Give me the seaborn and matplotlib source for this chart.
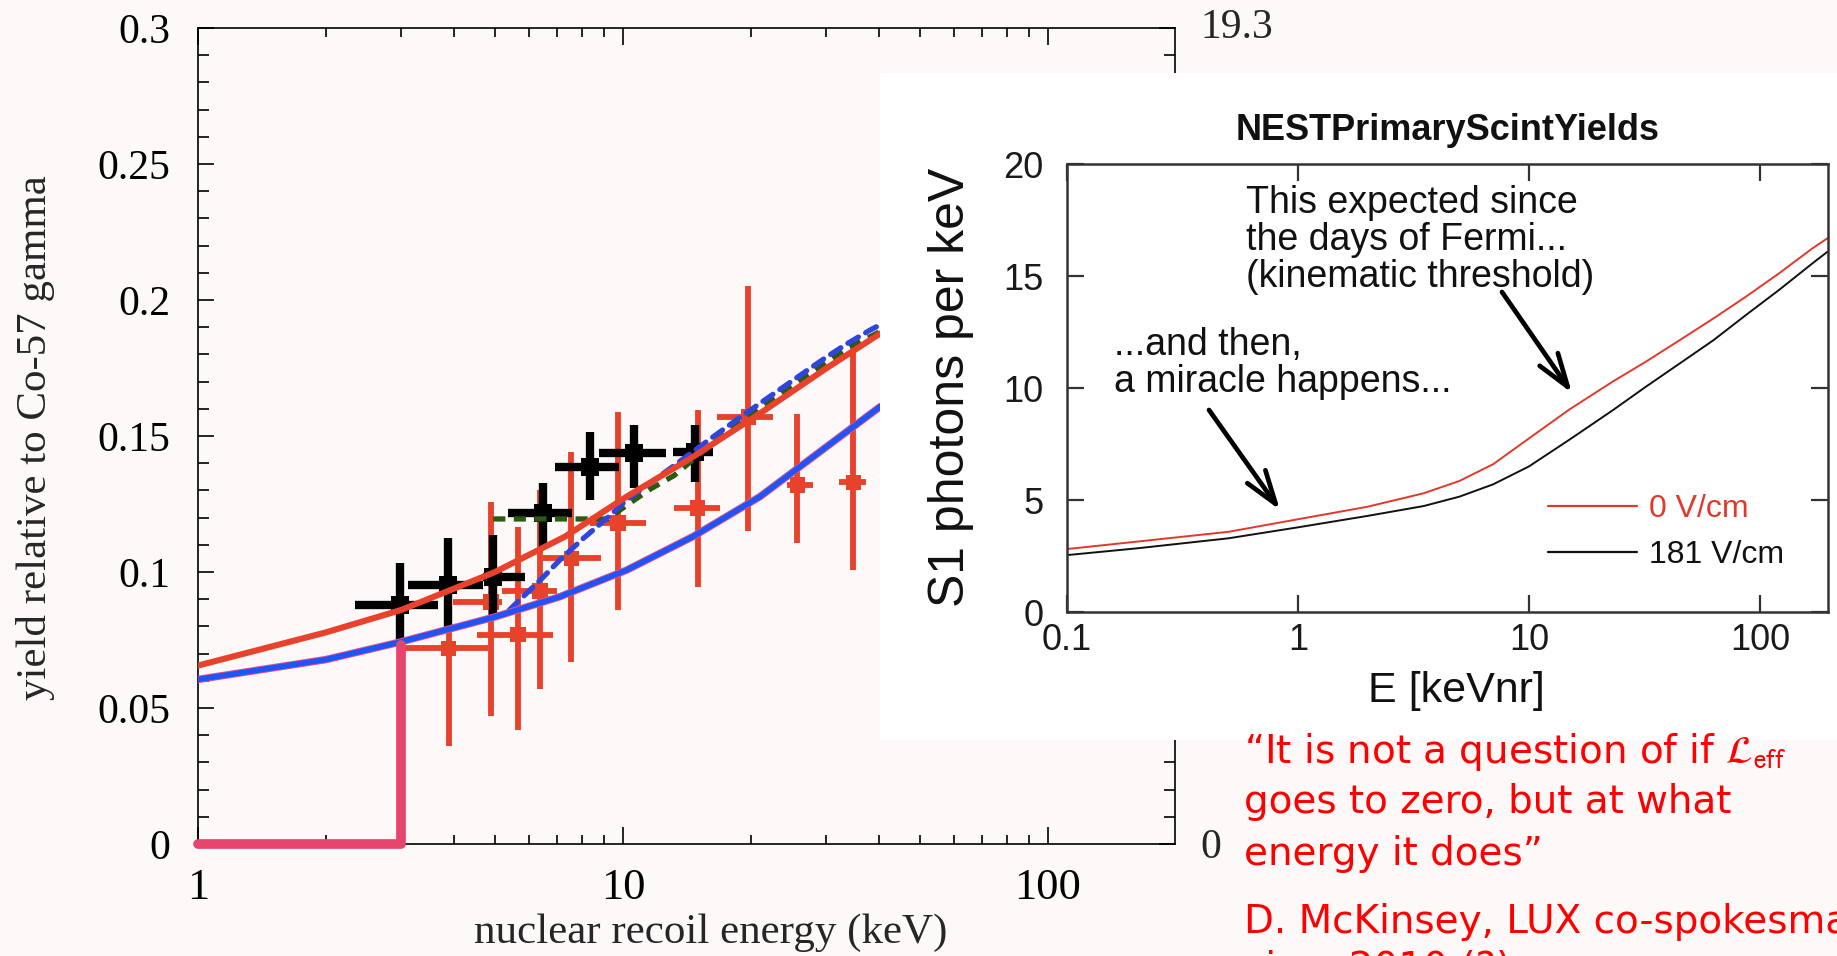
import matplotlib
matplotlib.use("Agg")
import matplotlib.pyplot as plt
import seaborn as sns
import pandas as pd
from matplotlib.ticker import MultipleLocator, LogLocator, NullFormatter, NullLocator
from matplotlib.patches import Rectangle

# ---------------- yield relative to Co-57 gamma ----------------
black_E = [2.99, 3.88, 4.95, 6.48, 8.36, 10.6, 14.8]
black_Y = [0.088, 0.0952, 0.0982, 0.1217, 0.1386, 0.1437, 0.1441]
black_Elo = [2.34, 3.12, 4.68, 5.36, 6.9, 8.8, 13.1]
black_Ehi = [3.67, 4.68, 5.88, 7.6, 9.8, 12.6, 16.3]
black_Ylo = [0.0743, 0.0794, 0.0842, 0.109, 0.1265, 0.131, 0.133]
black_Yhi = [0.1033, 0.1125, 0.1136, 0.1327, 0.1515, 0.154, 0.154]

red_E = [3.89, 4.89, 5.66, 6.38, 7.55, 9.73, 15.0, 19.7, 25.7, 34.8]
red_Y = [0.072, 0.089, 0.077, 0.093, 0.105, 0.118, 0.1235, 0.157, 0.132, 0.133]
red_Elo = [3.02, 3.98, 4.53, 5.2, 6.5, 8.36, 13.2, 16.6, 24.3, 32.3]
red_Ehi = [4.8, 5.2, 6.85, 7.0, 8.9, 11.3, 16.9, 22.5, 28.0, 37.3]
red_Ylo = [0.036, 0.047, 0.042, 0.057, 0.067, 0.086, 0.0945, 0.115, 0.1107, 0.1007]
red_Yhi = [0.1125, 0.1257, 0.1165, 0.130, 0.144, 0.159, 0.1596, 0.205, 0.158, 0.1805]

red_curve_E = [1, 2, 3, 5, 7.3, 10.2, 14.6, 21, 30.1, 40.3]
red_curve_Y = [0.0656, 0.0778, 0.086, 0.100, 0.113, 0.1277, 0.1423, 0.1583, 0.1749, 0.1877]

blue_curve_E = [1, 2, 3, 5, 7.1, 10.2, 14.6, 21, 30.1, 40.3]
blue_curve_Y = [0.0605, 0.0678, 0.0743, 0.0835, 0.0909, 0.1007, 0.113, 0.1277, 0.146, 0.1608]

blue_dash_E = [5.4, 6.48, 7.1, 8.07, 9.16, 10.2, 12.9, 16.3, 18.5, 21.0, 23.6, 26.5, 30.1, 33.5, 38.2, 41]
blue_dash_Y = [0.086, 0.098, 0.1044, 0.1124, 0.1197, 0.1265, 0.138, 0.1497, 0.1559, 0.162,
               0.1675, 0.173, 0.179, 0.1837, 0.189, 0.1915]

green_dash_E = [4.95, 6, 7, 8, 9.2, 10.2, 11.6, 13.2, 16.3, 21, 26.5, 33.5, 41]
green_dash_Y = [0.1195, 0.1195, 0.1195, 0.1195, 0.1195, 0.1245, 0.1305, 0.1355, 0.1475, 0.160,
                0.171, 0.182, 0.189]

threshold_E = [1, 3, 3]
threshold_Y = [0, 0, 0.073]

yield_ticks = [0, 0.05, 0.1, 0.15, 0.2, 0.25, 0.3]
yield_tick_labels = ["0", "0.05", "0.1", "0.15", "0.2", "0.25", "0.3"]
energy_ticks = [1, 10, 100]
energy_tick_labels = ["1", "10", "100"]

# ---------------- NEST primary scintillation yields ----------------
nest_E = [0.1, 0.2, 0.5, 1, 2, 3.5, 5, 7, 10, 15, 23, 32, 45, 63, 87, 121, 169, 197]
nest_0V = [2.81, 3.14, 3.58, 4.14, 4.7, 5.3, 5.85, 6.6, 7.75, 9.05, 10.28, 11.17, 12.14, 13.11,
           14.08, 15.12, 16.24, 16.7]
nest_181V = [2.54, 2.84, 3.29, 3.78, 4.29, 4.73, 5.15, 5.7, 6.5, 7.7, 9.0, 10.05, 11.1, 12.14,
             13.26, 14.38, 15.57, 16.1]
nest_labels = ["0 V/cm", "181 V/cm"]
nest_xticks = [0.1, 1, 10, 100]
nest_xtick_labels = ["0.1", "1", "10", "100"]
nest_yticks = [0, 5, 10, 15, 20]

BG = "#fdf9f8"
RED = "#e8412c"
BLUE = "#1f55f7"
SERIF = "Liberation Serif"
SANS = "Liberation Sans"

sns.set_style("ticks")
plt.rcParams["font.family"] = ["DejaVu Sans"]

W, H = 1837, 956
fig = plt.figure(figsize=(W / 100, H / 100), dpi=100, facecolor=BG)


def fx(px):
    return px / W


def fy(py):
    return 1 - py / H


# ================= main yield plot =================
ax = fig.add_axes([fx(198), fy(844), (1175 - 198) / W, (844 - 28) / H], zorder=0)
ax.set_facecolor(BG)
ax.set_xscale("log")

red_df = pd.DataFrame({"E": red_E, "Y": red_Y})
black_df = pd.DataFrame({"E": black_E, "Y": black_Y})

ax.errorbar(red_E, red_Y,
            xerr=[[e - lo for e, lo in zip(red_E, red_Elo)], [hi - e for e, hi in zip(red_E, red_Ehi)]],
            yerr=[[y - lo for y, lo in zip(red_Y, red_Ylo)], [hi - y for y, hi in zip(red_Y, red_Yhi)]],
            fmt="none", ecolor=RED, elinewidth=4.2, capsize=0, zorder=2)
sns.scatterplot(data=red_df, x="E", y="Y", ax=ax, marker="s", s=120, color=RED,
                edgecolor="none", zorder=2.1, legend=False)

ax.errorbar(black_E, black_Y,
            xerr=[[e - lo for e, lo in zip(black_E, black_Elo)], [hi - e for e, hi in zip(black_E, black_Ehi)]],
            yerr=[[y - lo for y, lo in zip(black_Y, black_Ylo)], [hi - y for y, hi in zip(black_Y, black_Yhi)]],
            fmt="none", ecolor="black", elinewidth=6.0, capsize=0, zorder=3)
sns.scatterplot(data=black_df, x="E", y="Y", ax=ax, marker="s", s=170, color="black",
                edgecolor="none", zorder=3.1, legend=False)

sns.lineplot(x=green_dash_E, y=green_dash_Y, ax=ax, color="#2d5a12", lw=3.8,
             ls=(0, (2.3, 1.6)), estimator=None, sort=False, zorder=4)
sns.lineplot(x=blue_dash_E, y=blue_dash_Y, ax=ax, color="#2f45e0", lw=3.8,
             ls=(0, (2.3, 1.6)), dash_capstyle="round", estimator=None, sort=False, zorder=4.2)
sns.lineplot(x=red_curve_E, y=red_curve_Y, ax=ax, color=RED, lw=4.4,
             estimator=None, sort=False, zorder=4.5)
sns.lineplot(x=blue_curve_E, y=blue_curve_Y, ax=ax, color="#e2508a", lw=5.4,
             estimator=None, sort=False, zorder=4.6)
sns.lineplot(x=blue_curve_E, y=blue_curve_Y, ax=ax, color=BLUE, lw=4.0,
             estimator=None, sort=False, zorder=4.7)
sns.lineplot(x=threshold_E, y=threshold_Y, ax=ax, color="#e8456e", lw=7,
             estimator=None, sort=False, zorder=6, clip_on=False)

ax.set_xlim(1, 199)
ax.set_ylim(0, 0.3)
ax.set_xticks(energy_ticks, labels=energy_tick_labels)
ax.xaxis.set_minor_locator(LogLocator(base=10, subs=range(2, 10), numticks=50))
ax.xaxis.set_minor_formatter(NullFormatter())
ax.set_yticks(yield_ticks, labels=yield_tick_labels)
ax.yaxis.set_minor_locator(MultipleLocator(0.01))

ax.tick_params(which="both", direction="in", top=True, right=True, width=1.2, color="black",
               labelfontfamily=SERIF, labelcolor="black")
ax.tick_params(axis="x", which="major", length=12, pad=17, labelsize=32)
ax.tick_params(axis="x", which="minor", length=6.5)
ax.tick_params(axis="y", which="major", length=11.5, pad=20, labelsize=30)
ax.tick_params(axis="y", which="minor", length=8)
for sp in ax.spines.values():
    sp.set_linewidth(1.2)
    sp.set_color("black")

ax.set_xlabel("nuclear recoil energy (keV)", fontsize=31, family=SERIF)
ax.xaxis.set_label_coords((711 - 198) / 977, (844 - 943) / 816)
ax.xaxis.label.set_va("baseline")
ax.set_ylabel("yield relative to Co-57 gamma", fontsize=31, family=SERIF)
ax.yaxis.set_label_coords((36 - 198) / 977, (844 - 438) / 816)
ax.yaxis.label.set_va("center")

fig.text(fx(1200), fy(38), "19.3", fontsize=30, family=SERIF, va="baseline", ha="left")
fig.text(fx(1200), fy(858), "0", fontsize=30, family=SERIF, va="baseline", ha="left")

# ================= NEST inset panel =================
fig.add_artist(Rectangle((fx(880), fy(740)), (W - 880) / W, (740 - 73) / H,
                         transform=fig.transFigure, facecolor="white", edgecolor="none", zorder=1))

ax2 = fig.add_axes([fx(1067), fy(612), 761 / W, 448 / H], zorder=2)
ax2.set_facecolor("white")
ax2.set_xscale("log")
nest_df = pd.DataFrame({"E": nest_E * 2, "S1": nest_0V + nest_181V,
                        "field": [nest_labels[0]] * len(nest_E) + [nest_labels[1]] * len(nest_E)})
sns.lineplot(data=nest_df, x="E", y="S1", hue="field", palette=["#e0392b", "#111111"],
             lw=1.4, estimator=None, ax=ax2)
ax2.set_xlim(0.1, 197)
ax2.set_ylim(0, 20)
ax2.set_xticks(nest_xticks, labels=nest_xtick_labels)
ax2.xaxis.set_minor_locator(NullLocator())
ax2.set_yticks(nest_yticks, labels=[str(v) for v in nest_yticks])
ax2.tick_params(which="both", direction="in", top=True, right=True, length=12, width=1.6,
                color="#333333", labelsize=26, labelfontfamily=SANS, labelcolor="#1a1a1a")
ax2.tick_params(axis="x", pad=8)
ax2.tick_params(axis="y", pad=17)
for sp in ax2.spines.values():
    sp.set_linewidth(1.8)
    sp.set_color("#333333")

ax2.set_xlabel("E [keVnr]", fontsize=31, family=SANS, color="#111111")
ax2.xaxis.set_label_coords((1456 - 1067) / 761, (612 - 691) / 448)
ax2.xaxis.label.set_va("center")
ax2.set_ylabel("S1 photons per keV", fontsize=36, family=SANS, color="#111111")
ax2.yaxis.set_label_coords((951 - 1067) / 761, (612 - 387) / 448)
ax2.yaxis.label.set_va("center")
ax2.set_title("NESTPrimaryScintYields", fontsize=26, family=SANS, weight="bold",
              color="#111111", y=(612 - 130) / 448, va="center", pad=0)

leg = ax2.legend(loc="upper left", bbox_to_anchor=(fx(1548), fy(494)),
                 bbox_transform=fig.transFigure, frameon=False,
                 handlelength=2.8, handletextpad=0.35, labelspacing=0.5,
                 borderpad=0, borderaxespad=0, labelcolor="linecolor",
                 prop={"family": SANS, "size": 23})
for ln in leg.get_lines():
    ln.set_linewidth(1.6)

for txt, base in [("This expected since", 213), ("the days of Fermi...", 250),
                  ("(kinematic threshold)", 287)]:
    fig.text(fx(1246), fy(base), txt, fontsize=27, family=SANS, va="baseline", color="#111111")
for txt, base in [("...and then,", 355), ("a miracle happens...", 392)]:
    fig.text(fx(1114), fy(base), txt, fontsize=27, family=SANS, va="baseline", color="#111111")

arrow = dict(arrowstyle="->, head_length=1.2, head_width=0.4", lw=3.4, color="black",
             mutation_scale=20, shrinkA=0, shrinkB=0)
fig.add_artist(plt.Annotation("", xy=(fx(1572), fy(393)), xytext=(fx(1502), fy(292)),
                              xycoords="figure fraction", arrowprops=arrow))
fig.add_artist(plt.Annotation("", xy=(fx(1280), fy(510)), xytext=(fx(1209), fy(410)),
                              xycoords="figure fraction", arrowprops=arrow))

# ================= quotation =================
QRED = "#ff0000"
quote = [(r"“It is not a question of if $\mathcal{L}_{\mathrm{eff}}$", 763),
         ("goes to zero, but at what", 813),
         ("energy it does”", 865),
         ("D. McKinsey, LUX co-spokesman", 933),
         ("circa 2010 (?)", 980)]
for txt, base in quote:
    fig.text(fx(1244), fy(base), txt, fontsize=28, family="DejaVu Sans", color=QRED,
             va="baseline", math_fontfamily="stixsans")

fig.savefig("out.png", dpi=100, facecolor=BG)
